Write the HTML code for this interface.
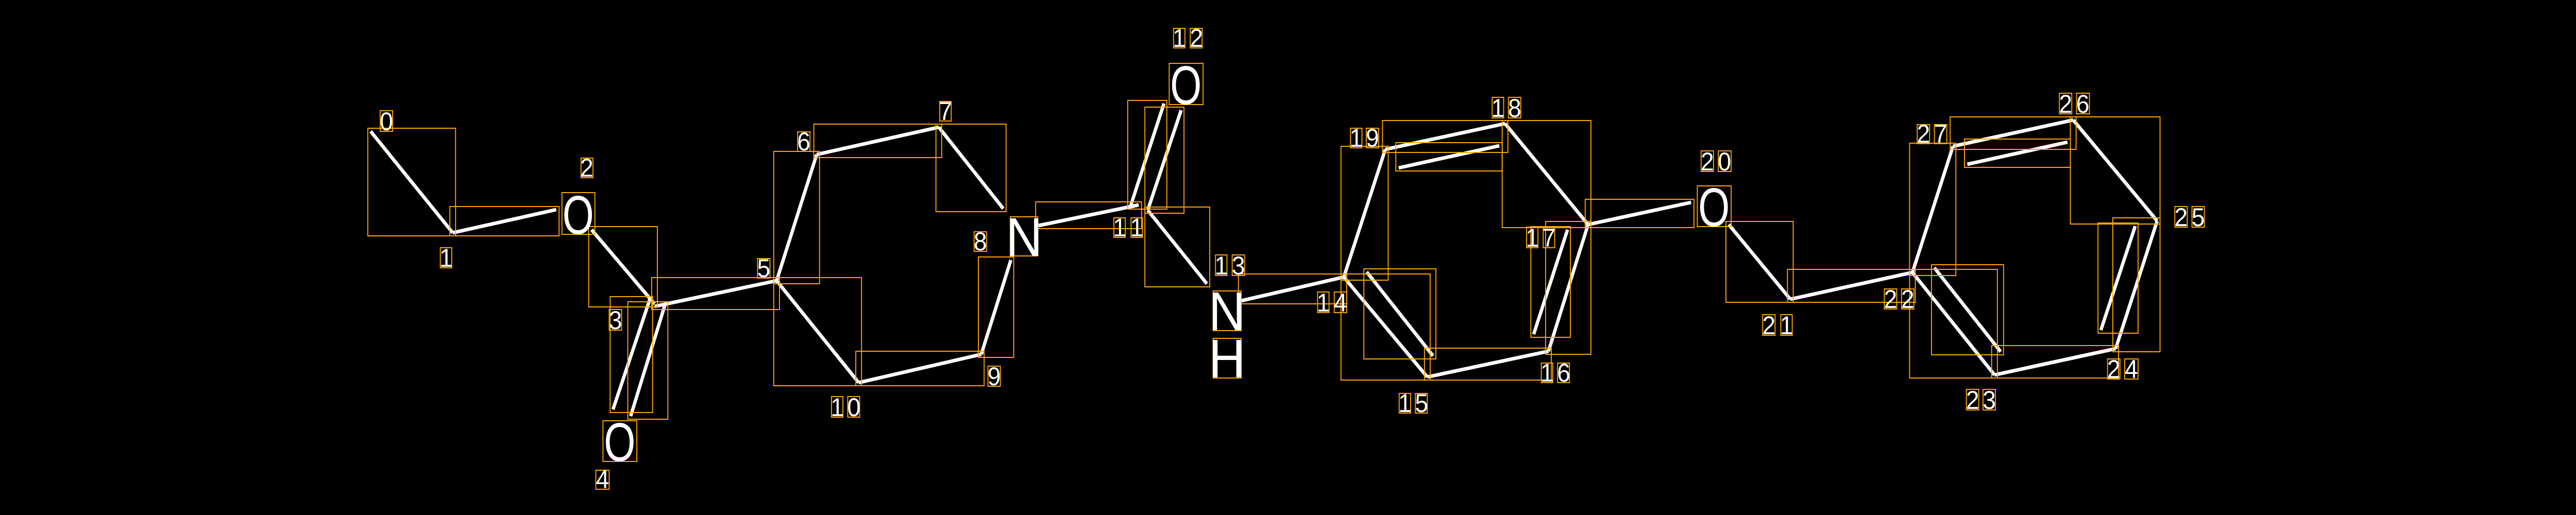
<!DOCTYPE html>
<html><head><meta charset="utf-8"><style>
html,body{margin:0;padding:0;background:#000;width:100%;height:100%;overflow:hidden;}
svg{display:block;position:absolute;left:0;top:0;width:100vw;height:100vh;}
text{font-family:"Liberation Sans",sans-serif;fill:#fff;}
</style></head><body>
<svg viewBox="0 0 5400 1000" preserveAspectRatio="none" xmlns="http://www.w3.org/2000/svg">
<rect width="5400" height="1000" fill="#000"/>
<g stroke="#fff" stroke-width="7">
<line x1="777" y1="255" x2="949" y2="452"/>
<line x1="949" y1="452" x2="1166" y2="407"/>
<line x1="1240" y1="446" x2="1372" y2="590"/>
<line x1="1285" y1="795" x2="1362" y2="582"/>
<line x1="1322" y1="808" x2="1394" y2="592"/>
<line x1="1372" y1="595" x2="1628" y2="545"/>
<line x1="1628" y1="545" x2="1712" y2="300"/>
<line x1="1712" y1="300" x2="1968" y2="247"/>
<line x1="1968" y1="247" x2="2103" y2="405"/>
<line x1="2119" y1="505" x2="2057" y2="688"/>
<line x1="2057" y1="688" x2="1800" y2="743"/>
<line x1="1800" y1="743" x2="1628" y2="545"/>
<line x1="2177" y1="438" x2="2387" y2="398"/>
<line x1="2370" y1="400" x2="2440" y2="201"/>
<line x1="2406" y1="408" x2="2476" y2="214"/>
<line x1="2406" y1="408" x2="2530" y2="551"/>
<line x1="2602" y1="584" x2="2817" y2="538"/>
<line x1="2817" y1="538" x2="2992" y2="732"/>
<line x1="2865" y1="528" x2="3004" y2="691"/>
<line x1="2992" y1="732" x2="3246" y2="682"/>
<line x1="3246" y1="682" x2="3329" y2="436"/>
<line x1="3215" y1="649" x2="3286" y2="446"/>
<line x1="3329" y1="436" x2="3155" y2="240"/>
<line x1="3155" y1="240" x2="2904" y2="290"/>
<line x1="2932" y1="326" x2="3143" y2="283"/>
<line x1="2904" y1="290" x2="2817" y2="538"/>
<line x1="3329" y1="436" x2="3545" y2="393"/>
<line x1="3624" y1="436" x2="3753" y2="581"/>
<line x1="3753" y1="581" x2="4009" y2="529"/>
<line x1="4009" y1="529" x2="4094" y2="284"/>
<line x1="4094" y1="284" x2="4346" y2="233"/>
<line x1="4124" y1="319" x2="4334" y2="276"/>
<line x1="4346" y1="233" x2="4522" y2="429"/>
<line x1="4522" y1="429" x2="4435" y2="677"/>
<line x1="4404" y1="641" x2="4476" y2="439"/>
<line x1="4435" y1="677" x2="4181" y2="728"/>
<line x1="4181" y1="728" x2="4009" y2="529"/>
<line x1="4055" y1="520" x2="4194" y2="683"/>
</g>
<g fill="none" stroke="#FFA500" stroke-width="2">
<rect x="771" y="249" width="184" height="209"/>
<rect x="943" y="401" width="229" height="57"/>
<rect x="1234" y="440" width="144" height="156"/>
<rect x="1279" y="576" width="89" height="225"/>
<rect x="1316" y="586" width="84" height="228"/>
<rect x="1366" y="539" width="268" height="62"/>
<rect x="1622" y="294" width="96" height="257"/>
<rect x="1706" y="241" width="268" height="65"/>
<rect x="1962" y="241" width="147" height="170"/>
<rect x="2051" y="499" width="74" height="195"/>
<rect x="1794" y="682" width="269" height="67"/>
<rect x="1622" y="539" width="184" height="210"/>
<rect x="2171" y="392" width="222" height="52"/>
<rect x="2364" y="195" width="82" height="211"/>
<rect x="2400" y="208" width="82" height="206"/>
<rect x="2400" y="402" width="136" height="155"/>
<rect x="2596" y="532" width="227" height="58"/>
<rect x="2811" y="532" width="187" height="206"/>
<rect x="2859" y="522" width="151" height="175"/>
<rect x="2986" y="676" width="266" height="62"/>
<rect x="3240" y="430" width="95" height="258"/>
<rect x="3209" y="440" width="83" height="215"/>
<rect x="3149" y="234" width="186" height="208"/>
<rect x="2898" y="234" width="263" height="62"/>
<rect x="2926" y="277" width="223" height="55"/>
<rect x="2811" y="284" width="99" height="260"/>
<rect x="3323" y="387" width="228" height="55"/>
<rect x="3618" y="430" width="141" height="157"/>
<rect x="3747" y="523" width="268" height="64"/>
<rect x="4003" y="278" width="97" height="257"/>
<rect x="4088" y="227" width="264" height="63"/>
<rect x="4118" y="270" width="222" height="55"/>
<rect x="4340" y="227" width="188" height="208"/>
<rect x="4429" y="423" width="99" height="260"/>
<rect x="4398" y="433" width="84" height="214"/>
<rect x="4175" y="671" width="266" height="63"/>
<rect x="4003" y="523" width="184" height="211"/>
<rect x="4049" y="514" width="151" height="175"/>
<rect x="1178" y="374" width="69" height="81"/>
<rect x="1264" y="817" width="71" height="79"/>
<rect x="2118" y="421" width="57" height="76"/>
<rect x="2451" y="123" width="71" height="80"/>
<rect x="2543" y="565" width="59" height="77"/>
<rect x="2543" y="657" width="59" height="77"/>
<rect x="3558" y="361" width="71" height="79"/>
<rect x="797" y="215" width="26" height="40"/>
<rect x="923" y="481" width="24" height="39"/>
<rect x="1218" y="307" width="25" height="38"/>
<rect x="1277" y="601" width="26" height="40"/>
<rect x="1249" y="913" width="28" height="37"/>
<rect x="1588" y="502" width="26" height="38"/>
<rect x="1672" y="256" width="26" height="38"/>
<rect x="1970" y="197" width="24" height="38"/>
<rect x="2042" y="450" width="26" height="38"/>
<rect x="2071" y="711" width="26" height="39"/>
<rect x="1743" y="770" width="24" height="40"/><rect x="1777" y="770" width="25" height="40"/>
<rect x="2335" y="423" width="24" height="38"/><rect x="2371" y="423" width="24" height="38"/>
<rect x="2460" y="55" width="24" height="38"/><rect x="2495" y="55" width="25" height="38"/>
<rect x="2548" y="495" width="24" height="40"/><rect x="2583" y="495" width="26" height="40"/>
<rect x="2762" y="567" width="24" height="40"/><rect x="2797" y="567" width="26" height="40"/>
<rect x="2933" y="764" width="24" height="38"/><rect x="2967" y="764" width="25" height="38"/>
<rect x="3231" y="705" width="24" height="38"/><rect x="3265" y="705" width="25" height="38"/>
<rect x="3200" y="441" width="24" height="40"/><rect x="3235" y="441" width="24" height="40"/>
<rect x="3128" y="189" width="24" height="40"/><rect x="3162" y="189" width="26" height="40"/>
<rect x="2831" y="249" width="24" height="38"/><rect x="2864" y="249" width="26" height="38"/>
<rect x="3566" y="293" width="26" height="40"/><rect x="3602" y="293" width="27" height="40"/>
<rect x="3695" y="611" width="26" height="40"/><rect x="3733" y="611" width="24" height="40"/>
<rect x="3950" y="561" width="26" height="39"/><rect x="3986" y="561" width="26" height="39"/>
<rect x="4122" y="756" width="26" height="40"/><rect x="4157" y="756" width="26" height="40"/>
<rect x="4418" y="697" width="26" height="39"/><rect x="4454" y="697" width="28" height="39"/>
<rect x="4559" y="401" width="26" height="40"/><rect x="4595" y="401" width="26" height="40"/>
<rect x="4317" y="181" width="26" height="40"/><rect x="4353" y="181" width="27" height="40"/>
<rect x="4019" y="242" width="26" height="37"/><rect x="4055" y="242" width="26" height="37"/>
</g>
<g font-size="106" text-anchor="middle">
<text x="1212" y="454" textLength="66" lengthAdjust="spacingAndGlyphs">O</text>
<text x="1299" y="895" textLength="66" lengthAdjust="spacingAndGlyphs">O</text>
<text x="2147" y="497">N</text>
<text x="2486" y="202" textLength="66" lengthAdjust="spacingAndGlyphs">O</text>
<text x="2572" y="641">N</text>
<text x="2572" y="733">H</text>
<text x="3593" y="439" textLength="66" lengthAdjust="spacingAndGlyphs">O</text>
</g>
<g font-size="50" text-anchor="middle">
<text x="810" y="253">0</text>
<text x="935" y="518">1</text>
<text x="1230" y="343">2</text>
<text x="1290" y="639">3</text>
<text x="1263" y="948">4</text>
<text x="1601" y="538">5</text>
<text x="1685" y="292">6</text>
<text x="1982" y="233">7</text>
<text x="2055" y="486">8</text>
<text x="2084" y="748">9</text>
<text x="1755" y="808">1</text><text x="1790" y="808">0</text>
<text x="2347" y="459">1</text><text x="2383" y="459">1</text>
<text x="2472" y="91">1</text><text x="2508" y="91">2</text>
<text x="2560" y="533">1</text><text x="2596" y="533">3</text>
<text x="2774" y="605">1</text><text x="2810" y="605">4</text>
<text x="2945" y="800">1</text><text x="2980" y="800">5</text>
<text x="3243" y="741">1</text><text x="3278" y="741">6</text>
<text x="3212" y="479">1</text><text x="3247" y="479">7</text>
<text x="3140" y="227">1</text><text x="3175" y="227">8</text>
<text x="2843" y="285">1</text><text x="2877" y="285">9</text>
<text x="3579" y="331">2</text><text x="3615" y="331">0</text>
<text x="3708" y="649">2</text><text x="3745" y="649">1</text>
<text x="3963" y="598">2</text><text x="3999" y="598">2</text>
<text x="4135" y="794">2</text><text x="4170" y="794">3</text>
<text x="4431" y="734">2</text><text x="4468" y="734">4</text>
<text x="4572" y="439">2</text><text x="4608" y="439">5</text>
<text x="4330" y="219">2</text><text x="4366" y="219">6</text>
<text x="4032" y="277">2</text><text x="4068" y="277">7</text>
</g>
</svg>
</body></html>
